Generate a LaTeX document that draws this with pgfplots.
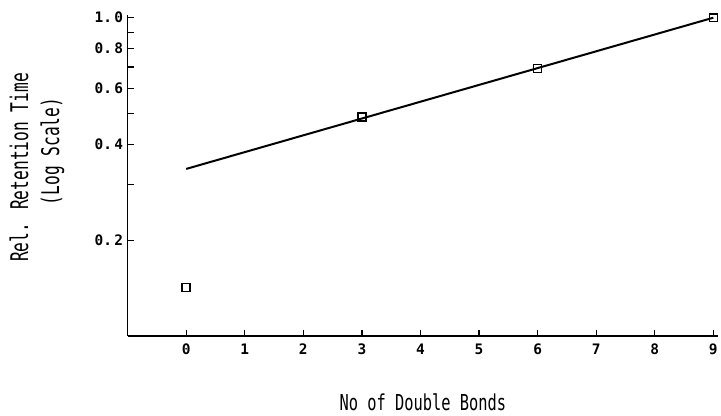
\documentclass[border=0pt]{standalone}
\usepackage{fontspec}
\usepackage{pgfplots}
\pgfplotsset{compat=1.18}
\newfontfamily\tickfont{DejaVu Sans Mono}
\newfontfamily\labfont[FakeStretch=0.667]{DejaVu Sans Mono}
\newfontfamily\xlabfont[FakeStretch=0.70]{DejaVu Sans Mono}

\begin{document}
\begin{tikzpicture}
\begin{axis}[
  name=ax,
  scale only axis,
  width=592pt, height=322pt,
  ymode=log,
  xmin=-1, xmax=9.08,
  ymin=0.1, ymax=1.02,
  axis lines*=left,
  axis line style={line width=1.6pt, -},
  xtick={0,1,...,9},
  ytick={0.2,0.4,0.6,0.8,1.0},
  yticklabels={0.\,2,0.\,4,0.\,6,0.\,8,1.\,0},
  minor ytick={0.3,0.5,0.7,0.9},
  log ticks with fixed point,
  tick align=inside,
  major tick length=6pt,
  minor tick length=6pt,
  tick style={black, line width=1.2pt},
  xticklabel style={font=\tickfont\bfseries\fontsize{14.5}{16}\selectfont, yshift=-4pt},
  yticklabel style={font=\tickfont\bfseries\fontsize{14.5}{16}\selectfont, xshift=-1pt},
  /pgf/number format/assume math mode=true,
  xlabel={No of Double Bonds},
  xlabel style={font=\xlabfont\fontsize{22}{24}\selectfont,
    at={(rel axis cs:0.5,0)}, anchor=center, yshift=-66pt},
  ylabel={Rel. Retention Time\\\hspace*{32pt}(Log Scale)},
  ylabel style={font=\labfont\fontsize{24.4}{31}\selectfont, align=center,
    at={(rel axis cs:0,0.525)}, anchor=center, yshift=91pt},
  clip=false,
]
% fitted regression line
\addplot[black, line width=2pt] coordinates {(0,0.335) (9,1.0)};
% measured retention times
\addplot[only marks, mark=square, mark size=4pt, mark options={line width=1.6pt, black}]
  coordinates {(0,0.142) (3,0.487) (6,0.693) (9,1.0)};
\end{axis}
% page frame around the axis and its labels
\path ([shift={(-128pt,-80pt)}]ax.south west) rectangle ([shift={(1pt,15pt)}]ax.north east);
\end{tikzpicture}
\end{document}
